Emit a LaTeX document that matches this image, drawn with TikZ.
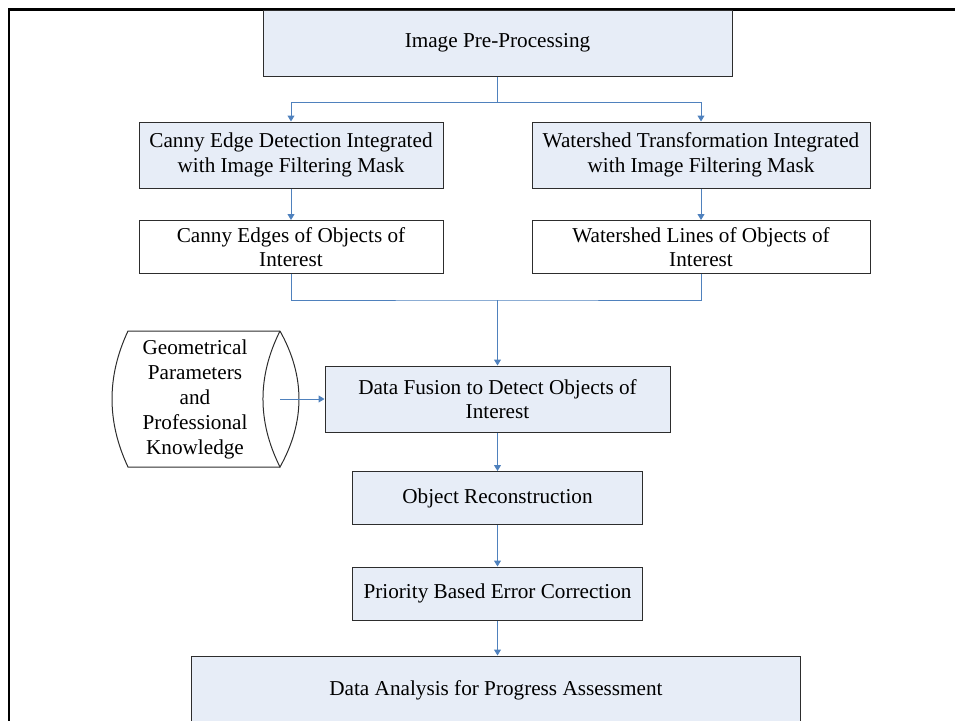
\documentclass[tikz,border=0pt]{standalone}
\usepackage{fontspec}
\setmainfont{Liberation Serif}
\usepackage{xcolor}
\usepackage{tikz}
\usetikzlibrary{arrows.meta}
\definecolor{boxfill}{RGB}{231,237,247}
\definecolor{linkblue}{RGB}{79,129,189}
\definecolor{boxline}{RGB}{45,45,45}

\begin{document}
\begin{tikzpicture}[x=1pt,y=-1pt,
 box/.style={draw=boxline, line width=1pt, fill=boxfill, align=center, inner sep=0pt, font=\fontsize{21.2}{24.5}\selectfont},
 plain/.style={box, fill=white},
 link/.style={draw=linkblue, line width=1pt},
 arr/.style={link, -{Triangle[width=7pt,length=6pt]}}]
\useasboundingbox (0,0) rectangle (955,720);
\clip (0,0) rectangle (955,720);
\draw[line width=2.4pt] (8.7,740) -- (8.7,9.5) -- (970,9.5);
\node[box, minimum width=469pt, minimum height=66pt] (pre) at (497.5,43) {Image Pre-Processing};
\node[box, minimum width=304pt, minimum height=66pt] (canny) at (291,155) {Canny Edge Detection Integrated\\with Image Filtering Mask};
\node[box, minimum width=338pt, minimum height=66pt] (water) at (701,155) {Watershed Transformation Integrated\\with Image Filtering Mask};
\node[plain, minimum width=304pt, minimum height=53pt] (cedge) at (291,247) {Canny Edges of Objects of\\Interest};
\node[plain, minimum width=338pt, minimum height=53pt] (wline) at (701,247) {Watershed Lines of Objects of\\Interest};
\node[box, minimum width=345pt, minimum height=66pt] (fusion) at (497.5,399) {Data Fusion to Detect Objects of\\Interest};
\node[box, minimum width=290pt, minimum height=53pt] (recon) at (497.5,498) {Object Reconstruction};
\node[box, minimum width=290pt, minimum height=53pt] (prior) at (497.5,593.5) {Priority Based Error Correction};
\node[box, minimum width=609pt, minimum height=68pt] (anal) at (496,690) {Data Analysis for Progress Assessment};
\draw[boxline, line width=1pt] (280,331) -- (128,331) .. controls (106.7,376.3) and (106.7,421.7) .. (128,467) -- (280,467);
\draw[boxline, line width=1pt] (280,331) .. controls (305.3,376.3) and (305.3,421.7) .. (280,467) .. controls (257.3,421.7) and (257.3,376.3) .. (280,331);
\node[align=center, inner sep=0pt, font=\fontsize{21.2}{25}\selectfont] (know) at (195,399) {Geometrical\\Parameters\\and\\Professional\\Knowledge};
\coordinate (kout) at (280,399);
\coordinate (split) at (497.5,102.5);
\coordinate (merge) at (497.5,300);
\draw[link] (pre.south) -- (split);
\draw[arr] (split) -| (canny.north);
\draw[arr] (split) -| (water.north);
\draw[arr] (canny) -- (cedge);
\draw[arr] (water) -- (wline);
\draw[link] (cedge.south) |- (merge) -| (wline.south);
\draw[arr] (merge) -- (fusion.north);
\draw[arr] (kout) -- (fusion.west);
\draw[arr] (fusion) -- (recon);
\draw[arr] (recon) -- (prior);
\draw[arr] (prior.south) -- (prior.south |- anal.north);
\end{tikzpicture}
\end{document}
